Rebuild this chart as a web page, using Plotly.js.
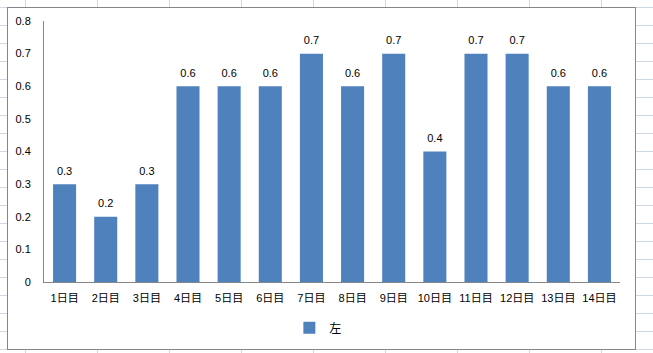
<!DOCTYPE html>
<html>
<head>
<meta charset="utf-8">
<script src="https://cdn.plot.ly/plotly-3.0.1.min.js"></script>
<style>
  html, body { margin: 0; padding: 0; width: 653px; height: 353px; overflow: hidden; }
  body {
    background-color: #ffffff;
    background-image:
      linear-gradient(to right, #D0D7E5 1px, transparent 1px),
      linear-gradient(to bottom, #D0D7E5 1px, transparent 1px);
    background-size: 72px 18px;
    background-position: 25px 7px;
  }
  #box {
    position: absolute; left: 7px; top: 7px;
    width: 627px; height: 341px;
    border: 1px solid #868686; background: #ffffff;
  }
  #chart { width: 627px; height: 341px; }
</style>
</head>
<body>
<div id="box"><div id="chart"></div></div>
<script>
const categories = ["1日目","2日目","3日目","4日目","5日目","6日目","7日目","8日目","9日目","10日目","11日目","12日目","13日目","14日目"];
const values = [0.3,0.2,0.3,0.6,0.6,0.6,0.7,0.6,0.7,0.4,0.7,0.7,0.6,0.6];
const seriesName = "左";
const yTickVals = [0,0.1,0.2,0.3,0.4,0.5,0.6,0.7,0.8];
const yTickText = ["0","0.1","0.2","0.3","0.4","0.5","0.6","0.7","0.8"];

const fontFam = '"Liberation Sans", Arial, "Noto Sans CJK JP", sans-serif';

const bars = {
  type: 'bar',
  x: categories,
  y: values,
  name: seriesName,
  marker: { color: '#4F81BD' },
  showlegend: true,
  hoverinfo: 'skip'
};

const labels = {
  type: 'scatter',
  mode: 'markers+text',
  x: categories,
  y: values,
  text: values.map(v => String(v)),
  textposition: 'top center',
  marker: { size: 9, color: 'rgba(0,0,0,0)' },
  textfont: { family: fontFam, size: 11, color: '#000000' },
  cliponaxis: false,
  showlegend: false,
  hoverinfo: 'skip'
};

const layout = {
  width: 627, height: 341,
  margin: { l: 36, r: 15, t: 13, b: 67, autoexpand: false },
  paper_bgcolor: '#ffffff',
  plot_bgcolor: '#ffffff',
  bargap: 0.44,
  font: { family: fontFam, size: 11, color: '#000000' },
  xaxis: {
    type: 'category',
    range: [-0.5, categories.length - 0.5],
    showline: true, linecolor: '#868686', linewidth: 1,
    showgrid: false, zeroline: false, ticks: '',
    ticklabelstandoff: 6,
    tickfont: { family: fontFam, size: 11, color: '#000000' }
  },
  yaxis: {
    range: [0, 0.8],
    tickvals: yTickVals, ticktext: yTickText,
    showline: true, linecolor: '#868686', linewidth: 1,
    showgrid: false, zeroline: false, ticks: '',
    ticklabelstandoff: 10,
    tickfont: { family: fontFam, size: 11, color: '#000000' }
  },
  showlegend: true,
  legend: {
    orientation: 'h',
    xref: 'container', yref: 'container',
    x: 0.495, xanchor: 'center',
    y: 0.062, yanchor: 'middle',
    font: { family: fontFam, size: 12, color: '#000000' },
    bgcolor: 'rgba(0,0,0,0)'
  }
};

Plotly.newPlot('chart', [bars, labels], layout, { displayModeBar: false, staticPlot: true });
</script>
</body>
</html>
